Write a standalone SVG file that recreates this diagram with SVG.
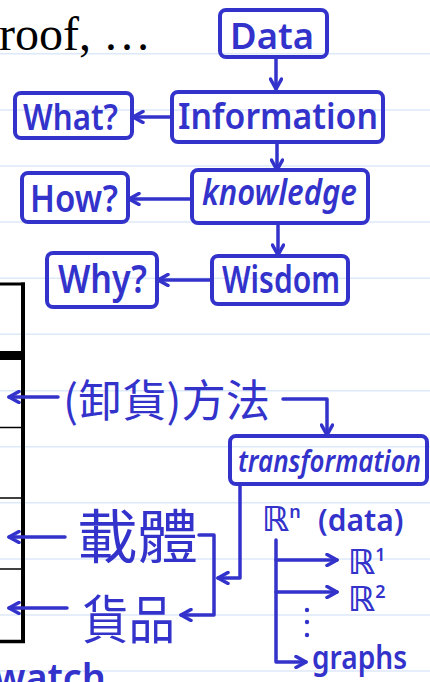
<svg xmlns="http://www.w3.org/2000/svg" width="430" height="682" viewBox="0 0 430 682">
<style>
.rule{stroke:#dce9f9;stroke-width:1.5}
.tb{stroke:#000;fill:none}
.box{fill:none;stroke:#3333cc;stroke-width:4;stroke-linejoin:round}
.ln{fill:none;stroke:#3333cc;stroke-width:3.5;stroke-linecap:round;stroke-linejoin:round}
.t{fill:#3333cc;font-family:"Noto Sans","DejaVu Sans",sans-serif;font-weight:600}
.r{font-family:"DejaVu Sans",sans-serif;font-weight:bold}
.cjk{fill:#3333cc;font-family:"Noto Sans CJK TC","Noto Sans CJK SC",sans-serif;font-weight:400}
</style>
<defs>
<marker id="ah" viewBox="0 0 14 14" refX="12" refY="7" markerWidth="14" markerHeight="14" markerUnits="userSpaceOnUse" orient="auto">
<path d="M2,1.5 L12,7 L2,12.5" fill="none" stroke="#3333cc" stroke-width="3.5" stroke-linecap="round" stroke-linejoin="round"/>
</marker>
</defs>
<rect width="430" height="682" fill="#fff"/>
<g id="rules">
<line class="rule" x1="0" y1="53.7" x2="430" y2="53.7"/>
<line class="rule" x1="0" y1="110" x2="430" y2="110"/>
<line class="rule" x1="0" y1="166" x2="430" y2="166"/>
<line class="rule" x1="0" y1="222" x2="430" y2="222"/>
<line class="rule" x1="0" y1="278.3" x2="430" y2="278.3"/>
<line class="rule" x1="0" y1="334.3" x2="430" y2="334.3"/>
<line class="rule" x1="0" y1="390.7" x2="430" y2="390.7"/>
<line class="rule" x1="0" y1="446.7" x2="430" y2="446.7"/>
<line class="rule" x1="0" y1="502.7" x2="430" y2="502.7"/>
<line class="rule" x1="0" y1="559" x2="430" y2="559"/>
<line class="rule" x1="0" y1="615" x2="430" y2="615"/>
<line class="rule" x1="0" y1="671" x2="430" y2="671"/>
</g>
<text x="-25" y="50" font-family="'Liberation Serif',serif" font-size="48" fill="#000">proof, …</text>
<g id="table">
<line class="tb" x1="0" y1="284" x2="25" y2="284" stroke-width="3"/>
<line class="tb" x1="23" y1="282.5" x2="23" y2="643" stroke-width="4"/>
<line class="tb" x1="0" y1="355.5" x2="25" y2="355.5" stroke-width="9"/>
<line class="tb" x1="0" y1="427.5" x2="23" y2="427.5" stroke-width="1.5"/>
<line class="tb" x1="0" y1="498" x2="23" y2="498" stroke-width="1.5"/>
<line class="tb" x1="0" y1="569" x2="23" y2="569" stroke-width="1.5"/>
<line class="tb" x1="0" y1="641.5" x2="25" y2="641.5" stroke-width="3.5"/>
</g>
<g id="connectors">
<line class="ln" x1="276" y1="57" x2="276" y2="89" marker-end="url(#ah)"/>
<line class="ln" x1="172" y1="117" x2="133" y2="117" marker-end="url(#ah)"/>
<line class="ln" x1="277" y1="142" x2="277" y2="170" marker-end="url(#ah)"/>
<line class="ln" x1="192" y1="199" x2="129" y2="199" marker-end="url(#ah)"/>
<line class="ln" x1="278" y1="223" x2="278" y2="255" marker-end="url(#ah)"/>
<line class="ln" x1="212" y1="280" x2="158" y2="280" marker-end="url(#ah)"/>
<line class="ln" x1="58" y1="397" x2="9" y2="397" marker-end="url(#ah)"/>
<line class="ln" x1="65" y1="537" x2="9" y2="537" marker-end="url(#ah)"/>
<line class="ln" x1="67" y1="608" x2="9" y2="608" marker-end="url(#ah)"/>
<path class="ln" d="M283,399 L327,399 L327,435" marker-end="url(#ah)"/>
<path class="ln" d="M240,485 L240,578 L218,578" marker-end="url(#ah)"/>
<path class="ln" d="M199,535 L214,535 L214,615 L181,615" marker-end="url(#ah)"/>
<path class="ln" d="M276,540 L276,662 L306,662" marker-end="url(#ah)"/>
<line class="ln" x1="276" y1="560" x2="337" y2="560" marker-end="url(#ah)"/>
<line class="ln" x1="276" y1="592" x2="337" y2="592" marker-end="url(#ah)"/>
<circle cx="307" cy="610" r="2.2" fill="#3333cc"/>
<circle cx="307" cy="622" r="2.2" fill="#3333cc"/>
<circle cx="307" cy="635" r="2.2" fill="#3333cc"/>
</g>
<g id="data"><rect class="box" x="220" y="10" width="107" height="47" rx="6"/><text class="t" x="230" y="49" font-size="36" textLength="84" lengthAdjust="spacingAndGlyphs">Data</text></g>
<g id="information"><rect class="box" x="172" y="92" width="211" height="50" rx="6"/><text class="t" x="178" y="129" font-size="36" textLength="200" lengthAdjust="spacingAndGlyphs">Information</text></g>
<g id="what"><rect class="box" x="15" y="93" width="117" height="45" rx="6"/><text class="t" x="23" y="130" font-size="36" textLength="95" lengthAdjust="spacingAndGlyphs">What?</text></g>
<g id="knowledge"><rect class="box" x="192" y="170" width="176" height="53" rx="6"/><text class="t" x="202" y="205" font-size="36" font-style="italic" textLength="155" lengthAdjust="spacingAndGlyphs">knowledge</text></g>
<g id="how"><rect class="box" x="22" y="173" width="106" height="49" rx="6"/><text class="t" x="30" y="212" font-size="38" textLength="88" lengthAdjust="spacingAndGlyphs">How?</text></g>
<g id="wisdom"><rect class="box" x="212" y="256" width="136" height="48" rx="6"/><text class="t" x="222" y="293" font-size="38" textLength="118" lengthAdjust="spacingAndGlyphs">Wisdom</text></g>
<g id="why"><rect class="box" x="47" y="253" width="110" height="54" rx="6"/><text class="t" x="58" y="293" font-size="40" textLength="89" lengthAdjust="spacingAndGlyphs">Why?</text></g>
<g id="method"><text class="cjk" x="63" y="417" font-size="44" textLength="207" lengthAdjust="spacingAndGlyphs">(卸貨)方法</text></g>
<g id="transformation"><rect class="box" x="230" y="436" width="197" height="48" rx="6"/><text class="t" x="238" y="472" font-size="30" font-style="italic" textLength="183" lengthAdjust="spacingAndGlyphs">transformation</text></g>
<g id="carrier"><text class="cjk" x="77" y="558" font-size="58" textLength="121" lengthAdjust="spacingAndGlyphs">載體</text></g>
<g id="goods"><text class="cjk" x="82" y="639" font-size="52" textLength="93" lengthAdjust="spacingAndGlyphs">貨品</text></g>
<g id="rn"><text class="t" x="262" y="531" font-size="30"><tspan class="r" font-size="34">ℝ</tspan><tspan font-size="18" dy="-13">n</tspan><tspan dy="13" x="318">(data)</tspan></text></g>
<g id="r1"><text class="t" x="348" y="574" font-size="32"><tspan class="r" font-size="34">ℝ</tspan><tspan font-size="18" dy="-13">1</tspan></text></g>
<g id="r2"><text class="t" x="348" y="611" font-size="32"><tspan class="r" font-size="34">ℝ</tspan><tspan font-size="18" dy="-13">2</tspan></text></g>
<g id="graphs"><text class="t" x="312" y="669" font-size="32" textLength="95" lengthAdjust="spacingAndGlyphs">graphs</text></g>
<g id="watch"><text class="t" x="-6" y="692" font-size="40" textLength="112" lengthAdjust="spacingAndGlyphs">watch</text></g>
</svg>
